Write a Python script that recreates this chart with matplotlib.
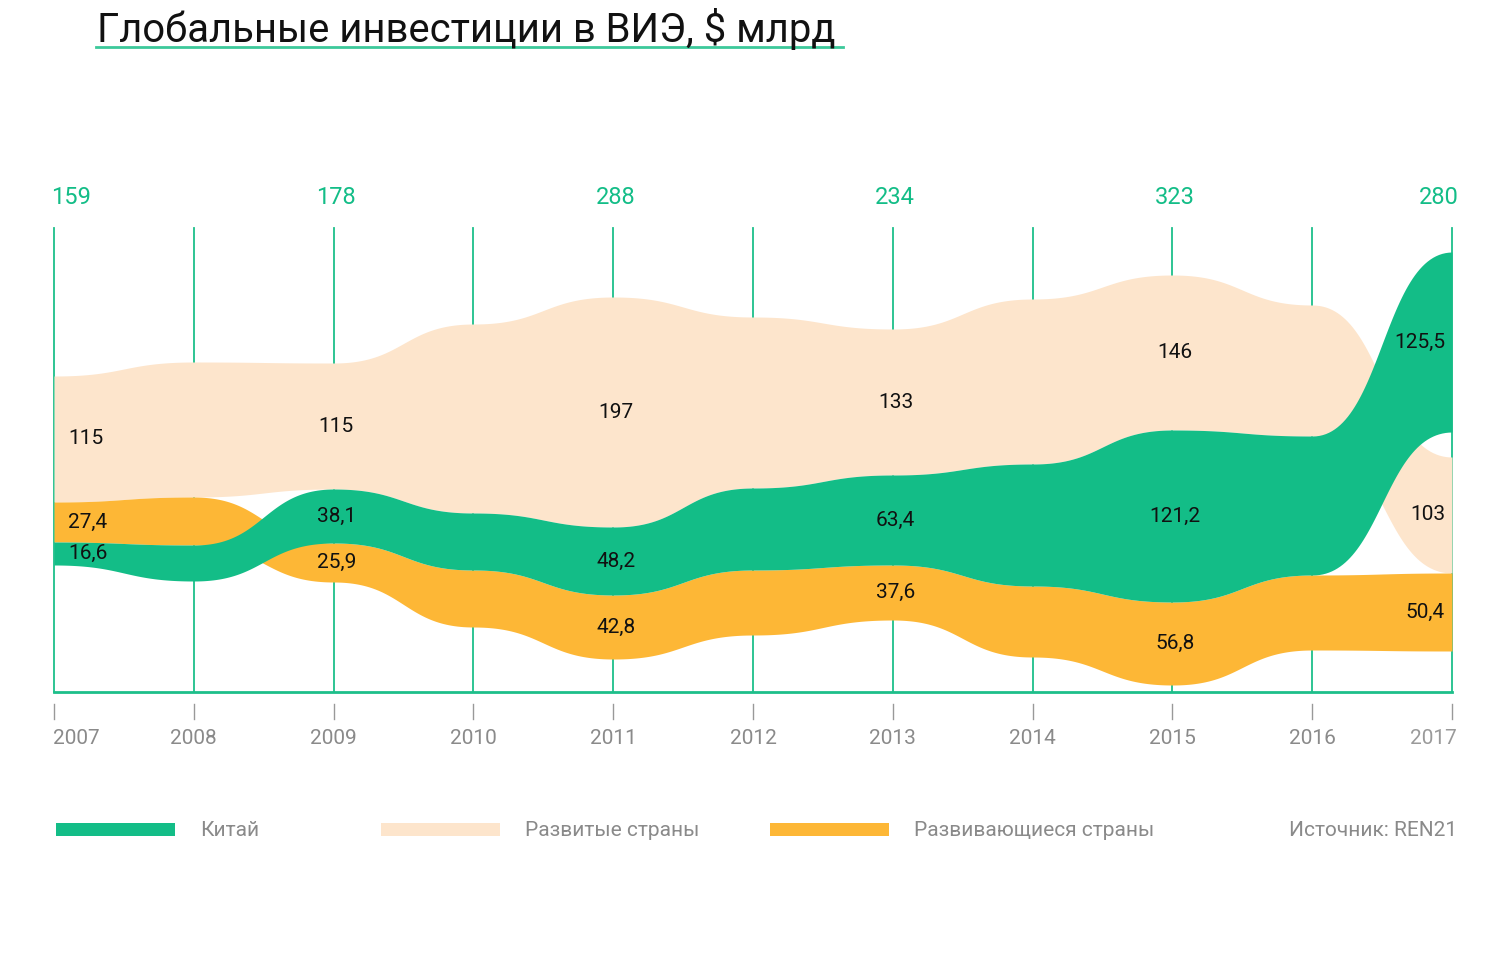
import numpy as np
import matplotlib.pyplot as plt

# ##data
years = [2007, 2008, 2009, 2010, 2011, 2012, 2013, 2014, 2015, 2016, 2017]

# band edges of the stream (chart units above the baseline)
developed_top = [316, 330, 329, 368, 395, 375, 363, 393, 417, 387, 235]
developed_bot = [190, 195, 203, 179, 165, 204, 217, 228, 262, 256, 119]
china_top = [150, 147, 203, 179, 165, 204, 217, 228, 262, 256, 440]
china_bot = [127, 111, 149, 122, 97, 122, 127, 106, 90, 117, 260]
developing_top = [190, 195, 149, 122, 97, 122, 127, 106, 90, 117, 119]
developing_bot = [150, 147, 110, 65, 33, 57, 72, 35, 7, 42, 41]

label_years = [2007, 2009, 2011, 2013, 2015, 2017]
totals = ["159", "178", "288", "234", "323", "280"]
developed_vals = ["115", "115", "197", "133", "146", "103"]
china_vals = ["16,6", "38,1", "48,2", "63,4", "121,2", "125,5"]
developing_vals = ["27,4", "25,9", "42,8", "37,6", "56,8", "50,4"]

legend_labels = ["Китай", "Развитые страны", "Развивающиеся страны"]
title = "Глобальные инвестиции в ВИЭ, $ млрд"
source = "Источник: REN21"

GREEN = "#13bd87"
BEIGE = "#fde5cc"
ORANGE = "#fdb736"
LINE = "#1dbf8a"
GREY = "#8a8a8a"

plt.rcParams['font.family'] = ['Roboto', 'DejaVu Sans']

W, H = 1504, 956
fig = plt.figure(figsize=(W / 100, H / 100), dpi=100)


def fx(px):
    return px / W


def fy(py):
    return 1 - py / H


ax = fig.add_axes([fx(54), fy(692), fx(1452) - fx(54), fy(228) - fy(692)])
ax.set_xlim(2007, 2017)
ax.set_ylim(0, 464)
ax.axis("off")


def bump(xs, ys, n=60):
    # smooth curve with flat tangents at every point (like d3 curveBumpX)
    u = np.linspace(0, 1, n)
    b0, b1, b2, b3 = (1 - u) ** 3, 3 * (1 - u) ** 2 * u, 3 * (1 - u) * u ** 2, u ** 3
    outx, outy = [], []
    for i in range(len(xs) - 1):
        x0, x1 = xs[i], xs[i + 1]
        xm = (x0 + x1) / 2
        outx.append(b0 * x0 + (b1 + b2) * xm + b3 * x1)
        outy.append((b0 + b1) * ys[i] + (b2 + b3) * ys[i + 1])
    return np.concatenate(outx), np.concatenate(outy)


# grid lines behind the stream
for y in years:
    ax.plot([y, y], [0, 464], color=LINE, lw=1.3, zorder=1, clip_on=False)
ax.plot([2007, 2017], [0, 0], color=LINE, lw=2, zorder=1, clip_on=False)

bands = [
    (developed_bot, developed_top, BEIGE),
    (developing_bot, developing_top, ORANGE),
    (china_bot, china_top, GREEN),
]
for z, (bot, top, col) in enumerate(bands):
    x, yb = bump(years, bot)
    _, yt = bump(years, top)
    ax.fill_between(x, yb, yt, color=col, lw=0, zorder=2 + z)

# value labels in the middle of each band
for i, y in enumerate(label_years):
    k = years.index(y)
    if y == 2007:
        xx, ha = y + 0.1, "left"
    elif y == 2017:
        xx, ha = y - 0.05, "right"
    else:
        xx, ha = y + 0.02, "center"
    for bot, top, vals in [(developed_bot, developed_top, developed_vals),
                           (china_bot, china_top, china_vals),
                           (developing_bot, developing_top, developing_vals)]:
        ax.text(xx, (bot[k] + top[k]) / 2, vals[i], ha=ha, va="center",
                fontsize=15, color="#111111", zorder=10)

# totals above the chart
for i, y in enumerate(label_years):
    px = 54 + (y - 2007) * 139.8
    if y == 2007:
        fig.text(fx(51), fy(198), totals[i], ha="left", va="center", fontsize=17, color=GREEN)
    elif y == 2017:
        fig.text(fx(1459), fy(198), totals[i], ha="right", va="center", fontsize=17, color=GREEN)
    else:
        fig.text(fx(px + 2), fy(198), totals[i], ha="center", va="center", fontsize=17, color=GREEN)

# year axis
for y in years:
    px = 54 + (y - 2007) * 139.8
    fig.add_artist(plt.Line2D([fx(px), fx(px)], [fy(704), fy(719)], color="#999999", lw=1))
    if y == 2007:
        fig.text(fx(53), fy(738), str(y), ha="left", va="center", fontsize=15, color=GREY)
    elif y == 2017:
        fig.text(fx(1457), fy(738), str(y), ha="right", va="center", fontsize=15, color="#9a9a9a")
    else:
        fig.text(fx(px), fy(738), str(y), ha="center", va="center", fontsize=15, color=GREY)

# title with underline
fig.text(fx(97), fy(42), title, ha="left", va="baseline", fontsize=28.8, color="#111111")
fig.add_artist(plt.Line2D([fx(96), fx(843)], [fy(47), fy(47)], color="#3cc99a", lw=2))

# legend
for (x0, lab), col in zip([(56, legend_labels[0]), (381, legend_labels[1]), (770, legend_labels[2])],
                          [GREEN, BEIGE, ORANGE]):
    fig.add_artist(plt.Rectangle((fx(x0), fy(836)), fx(119), fy(823) - fy(836), color=col, lw=0))
    fig.text(fx(x0 + 144), fy(830), lab, ha="left", va="center", fontsize=15, color=GREY)
fig.text(fx(1457), fy(830), source, ha="right", va="center", fontsize=15, color=GREY)

fig.savefig("out.png", dpi=100, facecolor="white")
